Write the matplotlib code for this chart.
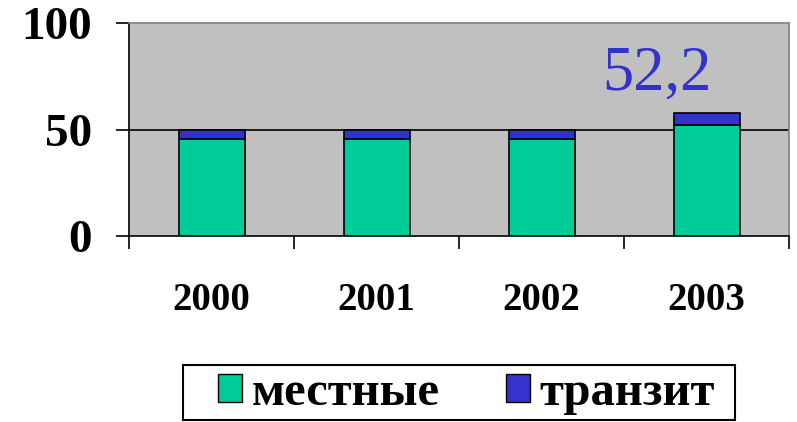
import matplotlib
matplotlib.use("Agg")
import matplotlib.pyplot as plt
from matplotlib.patches import Patch, Rectangle

years = ["2000", "2001", "2002", "2003"]
local = [45.4, 45.4, 45.4, 52.2]
transit = [4.6, 4.6, 4.6, 5.5]
label_text = "52,2"

W, H = 797, 422
fig = plt.figure(figsize=(W / 100, H / 100), dpi=100)
fig.patch.set_facecolor("white")

ax = fig.add_axes([129 / W, (H - 236) / H, (789 - 129) / W, (236 - 23) / H])
ax.set_facecolor("#C0C0C0")

green = "#00CC99"
blue = "#3333CC"
x = list(range(len(years)))
ax.bar(x, local, width=0.4, color=green, edgecolor="black", linewidth=1.2, zorder=3, label="местные")
ax.bar(x, transit, width=0.4, bottom=local, color=blue, edgecolor="black", linewidth=1.2, zorder=3, label="транзит")

ax.set_xlim(-0.5, len(years) - 0.5)
ax.set_ylim(0, 100)
ax.set_yticks([0, 50, 100])
ax.set_yticklabels(["0", "50", "100"])
ax.axhline(50, color="black", linewidth=1.2, zorder=2)

ax.set_xticks([i + 0.5 for i in range(-1, len(years))], minor=False)
ax.set_xticklabels([])
ax.set_xticks(x, minor=True)
ax.set_xticklabels(years, minor=True)
ax.tick_params(axis="x", which="major", length=9, width=1.2, direction="out", color="black")
ax.tick_params(axis="x", which="minor", length=0, pad=33)
ax.tick_params(axis="y", length=9.5, width=1.2, direction="out", pad=17)

for lbl in ax.get_xticklabels(minor=True):
    lbl.set_fontfamily("Liberation Serif")
    lbl.set_fontweight("bold")
    lbl.set_fontsize(28)
for lbl in ax.get_yticklabels():
    lbl.set_fontfamily("Liberation Serif")
    lbl.set_fontweight("bold")
    lbl.set_fontsize(34)

for s in ["left", "bottom"]:
    ax.spines[s].set_color("black")
    ax.spines[s].set_linewidth(1.2)
for s in ["top", "right"]:
    ax.spines[s].set_color("#808080")
    ax.spines[s].set_linewidth(1.2)

ax.text(3 - 0.3, local[3] + transit[3] + 10.8, label_text, ha="center", va="baseline",
        fontfamily="Liberation Serif", fontsize=45, color=blue, zorder=4)

# legend frame
fig.patches.append(Rectangle((183 / W, 2 / H), (735 - 183) / W, (420 - 365) / H,
                             transform=fig.transFigure, facecolor="white",
                             edgecolor="black", linewidth=1.5, zorder=1))

handles = [Patch(facecolor=green, edgecolor="black", linewidth=1.0),
           Patch(facecolor=blue, edgecolor="black", linewidth=1.0)]
leg = fig.legend(handles, ["местные", "транзит"], ncol=2,
                 loc="center left", bbox_to_anchor=(218 / W, (H - 393) / H),
                 prop={"family": "Liberation Serif", "weight": "bold", "size": 35},
                 frameon=False,
                 handlelength=0.5, handleheight=0.5, handletextpad=0.2,
                 columnspacing=1.35, borderpad=0.0, borderaxespad=0)
leg.set_zorder(2)

fig.savefig("out.png", dpi=100)
